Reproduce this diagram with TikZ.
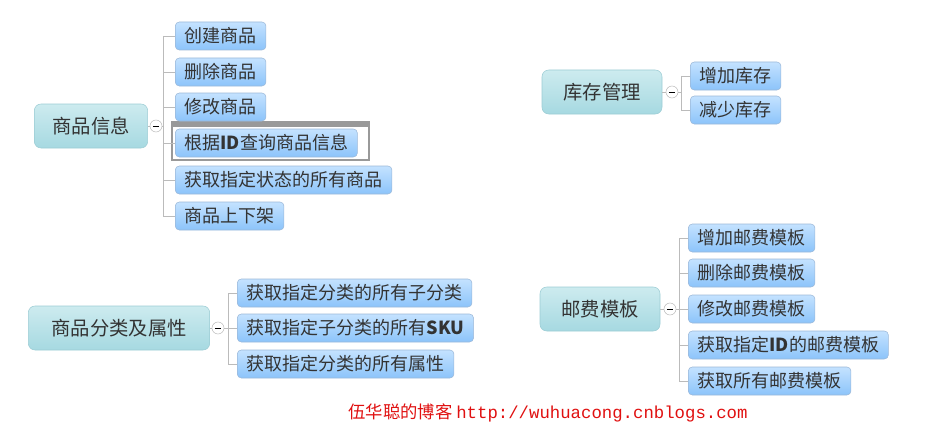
\documentclass[tikz,border=0pt]{standalone}
\usepackage{fontspec}
\setmainfont{Noto Sans CJK SC}
\setmonofont{Liberation Mono}
\usetikzlibrary{positioning}
\definecolor{leafedge}{HTML}{9CB8D8}
\definecolor{rootedge}{HTML}{9CCCD4}
\definecolor{linegray}{HTML}{BBBBBB}
\definecolor{blogred}{HTML}{E01010}
\tikzset{
  leaf/.style={draw=leafedge,rounded corners=3pt,top color=leafA,bottom color=leafB,
    anchor=west,minimum height=21pt,inner xsep=7pt,font=\fontsize{13.5}{13.5}\selectfont,text=black!80},
  topic/.style={draw=rootedge,rounded corners=5pt,top color=rootA,bottom color=rootB,
    minimum height=33pt,font=\fontsize{14.5}{14.5}\selectfont,text=black!80},
  fold/.style={draw=linegray,fill=white,circle,inner sep=0pt,minimum size=9pt},
  branch/.style={draw=linegray,line width=0.6pt}
}
\definecolor{leafA}{HTML}{C4E2FF}
\definecolor{leafB}{HTML}{8CC4FA}
\definecolor{rootA}{HTML}{CDEBEF}
\definecolor{rootB}{HTML}{A6D9E1}
\newcommand\foldmark[1]{\draw[black,line width=0.6pt] ([xshift=-2.3pt]#1.center) -- ([xshift=2.3pt]#1.center);}
\begin{document}
\begin{tikzpicture}[x=0.75pt,y=-0.75pt]
\useasboundingbox (0,0) rectangle (945,435);
% 商品信息
\node[topic,minimum width=85pt] (goods) at (91,126) {商品信息};
\draw[branch] (163,36) -- (163,216);
\draw[branch] (goods) -- (163,126);
\node[fold] (goodsf) at (156,126) {};
\foldmark{goodsf}
\draw[draw=black!40,fill=black!40] (172,122) rectangle (369,126);
\draw[draw=black!40,line width=1.5pt] (172,122) rectangle (369,160);
\node[leaf] (g1) at (175,36) {创建商品};
\node[leaf] (g2) at (175,72) {删除商品};
\node[leaf] (g3) at (175,107) {修改商品};
\node[leaf] (g4) at (175,143) {根据\textbf{ID}查询商品信息};
\node[leaf] (g5) at (175,180) {获取指定状态的所有商品};
\node[leaf] (g6) at (175,216) {商品上下架};
\foreach \n in {g1,g2,g3,g4,g5,g6}
  \draw[branch] (163,0 |- \n.west) -- (\n.west);
% 库存管理
\node[topic,minimum width=90pt] (stock) at (602,92) {库存管理};
\draw[branch] (stock) -- (681,92);
\node[fold] (stockf) at (672,92) {};
\foldmark{stockf}
\draw[branch] (681,76) -- (681,110);
\node[leaf] (s1) at (690,76) {增加库存};
\node[leaf] (s2) at (690,110) {减少库存};
\foreach \n in {s1,s2}
  \draw[branch] (681,0 |- \n.west) -- (\n.west);
% 商品分类及属性
\node[topic,minimum width=136pt] (cat) at (119,328) {商品分类及属性};
\draw[branch] (cat) -- (228,328);
\node[fold] (catf) at (218,328) {};
\foldmark{catf}
\draw[branch] (228,293) -- (228,364);
\node[leaf] (c1) at (237,293) {获取指定分类的所有子分类};
\node[leaf] (c2) at (237,328) {获取指定子分类的所有\textbf{SKU}};
\node[leaf] (c3) at (237,364) {获取指定分类的所有属性};
\foreach \n in {c1,c2,c3}
  \draw[branch] (228,0 |- \n.west) -- (\n.west);
% 邮费模板
\node[topic,minimum width=90pt] (post) at (600,309) {邮费模板};
\draw[branch] (post) -- (679,309);
\node[fold] (postf) at (670,309) {};
\foldmark{postf}
\draw[branch] (679,238) -- (679,381);
\node[leaf] (p1) at (688,238) {增加邮费模板};
\node[leaf] (p2) at (688,273) {删除邮费模板};
\node[leaf] (p3) at (688,309) {修改邮费模板};
\node[leaf] (p4) at (688,345) {获取指定\textbf{ID}的邮费模板};
\node[leaf] (p5) at (688,381) {获取所有邮费模板};
\foreach \n in {p1,p2,p3,p4,p5}
  \draw[branch] (679,0 |- \n.west) -- (\n.west);
% footer
\node[text=blogred,font=\fontsize{13}{13}\selectfont] (blog) at (548,413)
  {伍华聪的博客 \texttt{http://wuhuacong.cnblogs.com}};
\end{tikzpicture}
\end{document}
